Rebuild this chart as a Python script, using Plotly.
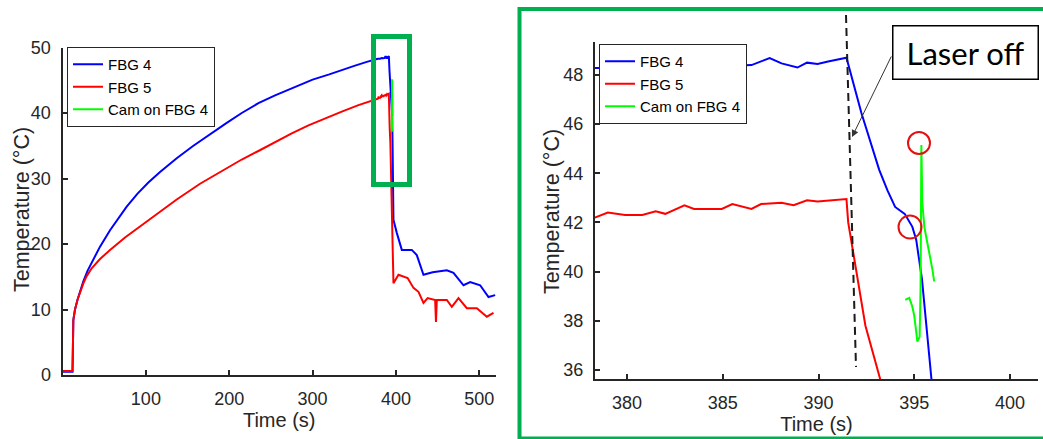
import plotly.graph_objects as go

# ---- data -------------------------------------------------------------
# FBG 4 temperature (deg C) vs time (s)
fbg4_time = [0, 12, 13, 15, 18, 21, 25, 30, 36.6, 45, 57, 67, 77, 90, 103, 117,
             137, 157, 177, 197, 215, 235, 255, 275, 300, 320, 335, 350, 365, 372,
             378.33, 380.8, 383.0, 384.95, 386.5, 387.45, 388.07, 388.9, 389.4,
             389.95, 390.5, 391.46, 392.24, 392.9, 393.17, 393.6, 394.0, 394.5,
             394.9, 395.1, 395.4, 395.9, 397, 401, 407, 412, 419, 425, 433, 444,
             461, 469, 481, 489, 501, 511, 519]
fbg4_temp = [0.5, 0.5, 8.4, 10.0, 11.5, 12.8, 14.3, 15.9, 17.6, 19.6, 22.1, 24.0, 25.7, 27.7, 29.4, 31.0,
             33.1, 35.0, 36.8, 38.5, 40.0, 41.5, 42.7, 43.8, 45.1, 45.9, 46.6, 47.2, 47.8, 48.1,
             48.28, 48.3, 48.4, 48.35, 48.4, 48.69, 48.47, 48.3, 48.5,
             48.45, 48.55, 48.7, 46.45, 44.8, 44.14, 43.3, 42.63, 42.35,
             41.82, 41.3, 39.7, 35.6, 23.7, 21.7, 19.1, 19.1, 19.1, 18.3, 15.3, 15.7,
             16.0, 15.6, 13.7, 14.2, 13.7, 11.9, 12.2]

# FBG 5 temperature (deg C) vs time (s)
fbg5_time = [0, 12, 13, 15, 18, 21, 25, 29, 35, 45, 57, 75, 97, 117, 137, 165,
             195, 215, 235, 255, 275, 295, 315, 335, 355, 370,
             378.33, 379.0, 379.9, 380.8, 381.5, 382.0, 383.0, 383.5, 384.2, 384.95,
             385.5, 386.5, 387.0, 388.07, 388.7, 389.4, 389.95, 391.46, 391.55,
             392.45, 393.3, 394.5, 396, 397, 403, 414, 421, 427, 433, 438, 447,
             448, 449, 461, 467, 475, 485, 497, 509, 517]
fbg5_temp = [0.6, 0.6, 8.4, 10.0, 11.5, 12.6, 14.0, 15.1, 16.3, 17.7, 19.1, 21.0, 23.1, 25.0, 26.8, 29.2,
             31.5, 32.9, 34.2, 35.6, 36.9, 38.1, 39.2, 40.2, 41.2, 41.9,
             42.2, 42.4, 42.3, 42.3, 42.45, 42.35, 42.7, 42.55, 42.55, 42.55,
             42.75, 42.55, 42.75, 42.8, 42.7, 42.9, 42.85, 42.95, 42.0,
             37.8, 35.4, 28.0, 17.0, 14.0, 15.3, 14.8, 13.3, 12.7, 11.0, 11.75, 11.45,
             8.1, 11.45, 11.45, 10.4, 11.75, 10.2, 10.2, 8.9, 9.5]

# Thermal camera reading on FBG 4
cam_time = [394.53, 394.74, 394.9, 395.0, 395.11, 395.16, 395.28, 395.33, 395.37,
            395.42, 395.53, 395.79, 395.95, 396.04]
cam_temp = [38.85, 38.93, 38.57, 38.2, 37.5, 37.15, 37.35, 39.4, 45.15,
            42.8, 41.8, 40.76, 40.07, 39.6]

series_names = ["FBG 4", "FBG 5", "Cam on FBG 4"]
series_colors = ["#0000ff", "#ff0000", "#00ff00"]

full_xticks = [100, 200, 300, 400, 500]
full_yticks = [0, 10, 20, 30, 40, 50]
zoom_xticks = [380, 385, 390, 395, 400]
zoom_yticks = [36, 38, 40, 42, 44, 46, 48]

# ---- layout helpers (pixel -> paper) -----------------------------------
W, H = 1043, 439


def px(x):
    return x / W


def py(y):
    return 1 - y / H


INK = "#262626"
FONT = "Liberation Sans"
GREEN = "#00b050"

fig = go.Figure()

series = [(fbg4_time, fbg4_temp), (fbg5_time, fbg5_temp), (cam_time, cam_temp)]
for (t, temp), name, color in zip(series, series_names, series_colors):
    fig.add_trace(go.Scatter(x=t, y=temp, mode="lines", name=name,
                             line=dict(color=color, width=2),
                             xaxis="x", yaxis="y", legend="legend"))
for (t, temp), name, color in zip(series, series_names, series_colors):
    fig.add_trace(go.Scatter(x=t, y=temp, mode="lines", name=name,
                             line=dict(color=color, width=2),
                             xaxis="x2", yaxis="y2", legend="legend2"))

axis_style = dict(showline=True, linecolor=INK, linewidth=2, mirror=False,
                  ticks="inside", ticklen=5, tickwidth=2, tickcolor=INK,
                  showgrid=False, zeroline=False, automargin=False,
                  tickfont=dict(family=FONT, size=18, color=INK))
xtitle_font = dict(family=FONT, size=20, color=INK)
ytitle_font = dict(family=FONT, size=21.5, color=INK)

legend_style = dict(xanchor="left", yanchor="top", bgcolor="white",
                    bordercolor=INK, borderwidth=1, itemwidth=30,
                    tracegroupgap=0,
                    font=dict(family=FONT, size=15, color="black"))

fig.update_layout(
    width=W, height=H, autosize=False,
    margin=dict(l=0, r=0, t=0, b=0, pad=0, autoexpand=False),
    paper_bgcolor="white", plot_bgcolor="white",
    xaxis=dict(axis_style, domain=[px(62.5), px(496)], range=[0, 520],
               tickvals=full_xticks, anchor="y", ticklabelstandoff=6,
               title=dict(text="Time (s)", font=xtitle_font, standoff=4)),
    yaxis=dict(axis_style, domain=[py(375), py(47.5)], range=[0, 50],
               tickvals=full_yticks, anchor="x", ticklabelstandoff=6),
    xaxis2=dict(axis_style, domain=[px(595), px(1038)], range=[378.33, 401.46],
                tickvals=zoom_xticks, anchor="y2", ticklabelstandoff=6,
                title=dict(text="Time (s)", font=xtitle_font, standoff=4)),
    yaxis2=dict(axis_style, domain=[py(379), py(42)], range=[35.63, 49.34],
                tickvals=zoom_yticks, anchor="x2", ticklabelstandoff=6),
    legend=dict(legend_style, x=px(67), y=py(47)),
    legend2=dict(legend_style, x=px(599), y=py(44)),
    showlegend=True,
)

# vertical axis titles
for cx, cy in [(22, 210), (552, 212)]:
    fig.add_annotation(xref="paper", yref="paper", x=px(cx), y=py(cy),
                       xanchor="center", yanchor="middle", showarrow=False,
                       textangle=-90, text="Temperature (°C)", font=ytitle_font)

# highlight of the zoomed window on the full trace
fig.add_shape(type="rect", xref="paper", yref="paper",
              x0=px(373.5), x1=px(409.5), y0=py(36.5), y1=py(184.5),
              line=dict(color=GREEN, width=5), fillcolor="rgba(0,0,0,0)")
# frame around the zoomed panel
fig.add_shape(type="rect", xref="paper", yref="paper",
              x0=px(519.5), x1=px(1045), y0=py(9), y1=py(438.5),
              line=dict(color=GREEN, width=4), fillcolor="rgba(0,0,0,0)")
# laser switch-off marker
fig.add_shape(type="line", xref="paper", yref="paper",
              x0=px(846), y0=py(15), x1=px(856), y1=py(367),
              line=dict(color="#1a1a1a", width=2, dash="8px,5px"))
# circled readings
fig.add_shape(type="circle", xref="paper", yref="paper",
              x0=px(908), x1=px(930), y0=py(132), y1=py(154),
              line=dict(color="#e31010", width=2))
fig.add_shape(type="circle", xref="paper", yref="paper",
              x0=px(898.5), x1=px(921.5), y0=py(215.5), y1=py(238.5),
              line=dict(color="#e31010", width=2))

fig.add_annotation(xref="paper", yref="paper", x=px(965), y=py(53),
                   xanchor="center", yanchor="middle", showarrow=False,
                   text="Laser off", font=dict(family="Lato", size=31, color="black"),
                   bgcolor="white", bordercolor="black", borderwidth=1.5,
                   borderpad=0, width=144, height=52)
fig.add_annotation(xref="paper", yref="paper", x=px(852), y=py(137),
                   ax=40, ay=-82, axref="pixel", ayref="pixel",
                   text="", showarrow=True, arrowhead=2, arrowsize=1.4,
                   arrowwidth=1, arrowcolor="#333333")

fig.write_html("out.html")
